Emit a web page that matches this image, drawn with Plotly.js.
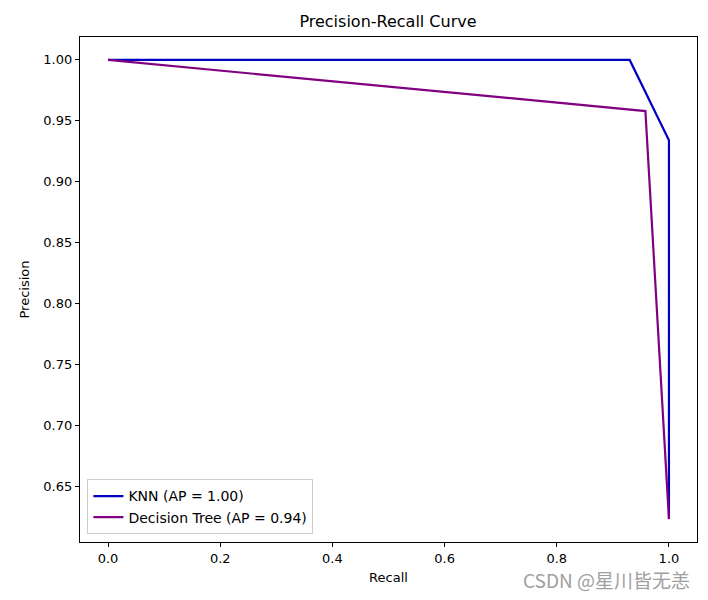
<!DOCTYPE html>
<html>
<head>
<meta charset="utf-8">
<script src="https://cdn.plot.ly/plotly-3.0.1.min.js"></script>
<style>html,body{margin:0;padding:0;background:#fff;}#chart{width:708px;height:600px;}</style>
</head>
<body>
<div id="chart"></div>
<script>
const knnRecall = [1.0, 1.0, 0.93, 0.0];
const knnPrecision = [0.623, 0.934, 1.0, 1.0];
const knnLabel = "KNN (AP = 1.00)";
const dtRecall = [1.0, 0.958, 0.0];
const dtPrecision = [0.623, 0.958, 1.0];
const dtLabel = "Decision Tree (AP = 0.94)";
const xTicks = [0.0, 0.2, 0.4, 0.6, 0.8, 1.0];
const xTickText = ["0.0", "0.2", "0.4", "0.6", "0.8", "1.0"];
const yTicks = [0.65, 0.70, 0.75, 0.80, 0.85, 0.90, 0.95, 1.00];
const yTickText = ["0.65", "0.70", "0.75", "0.80", "0.85", "0.90", "0.95", "1.00"];

const font = "DejaVu Sans, sans-serif";
const traces = [
  {x: knnRecall, y: knnPrecision, mode: "lines", name: knnLabel,
   line: {color: "#0000c0", width: 2.2}},
  {x: dtRecall, y: dtPrecision, mode: "lines", name: dtLabel,
   line: {color: "#800080", width: 2.2}}
];
const layout = {
  width: 708, height: 600,
  margin: {l: 80, r: 11, t: 37, b: 58},
  paper_bgcolor: "#fff", plot_bgcolor: "#fff",
  font: {family: font, size: 13, color: "#000"},
  title: {text: "Precision-Recall Curve", font: {family: font, size: 16, color: "#000"},
          x: 0.548, xanchor: "center", y: 0.964, yanchor: "middle"},
  xaxis: {range: [-0.05, 1.05], tickvals: xTicks, ticktext: xTickText,
          showgrid: false, zeroline: false, showline: true, mirror: true,
          linecolor: "#000", linewidth: 1.2, ticks: "outside", ticklen: 4, tickcolor: "#000",
          tickfont: {family: font, size: 13},
          title: {text: "Recall", font: {family: font, size: 13}, standoff: 8}},
  yaxis: {range: [0.6042, 1.0188], tickvals: yTicks, ticktext: yTickText,
          showgrid: false, zeroline: false, showline: true, mirror: true,
          linecolor: "#000", linewidth: 1.2, ticks: "outside", ticklen: 4, tickcolor: "#000",
          tickfont: {family: font, size: 13},
          title: {text: "Precision", font: {family: font, size: 13}, standoff: 10}},
  legend: {x: 0.012, y: 0.015, xanchor: "left", yanchor: "bottom",
           bgcolor: "rgba(255,255,255,0.8)", bordercolor: "#cccccc", borderwidth: 1,
           font: {family: font, size: 14}, tracegroupgap: 0},
  showlegend: true,
  annotations: [
    {xref: "paper", yref: "paper", x: 0.992, y: -0.075, xanchor: "right", yanchor: "middle",
     text: "CSDN @星川皆无恙", showarrow: false,
     font: {family: "Noto Sans CJK SC, sans-serif", size: 19, color: "#a0a0a0"}},
    {xref: "paper", yref: "paper", x: -0.137, y: -0.03, xanchor: "right", yanchor: "middle",
     text: "0", showarrow: false, font: {family: font, size: 13, color: "#000"}}
  ]
};
Plotly.newPlot("chart", traces, layout, {displayModeBar: false, responsive: false});
</script>
</body>
</html>
